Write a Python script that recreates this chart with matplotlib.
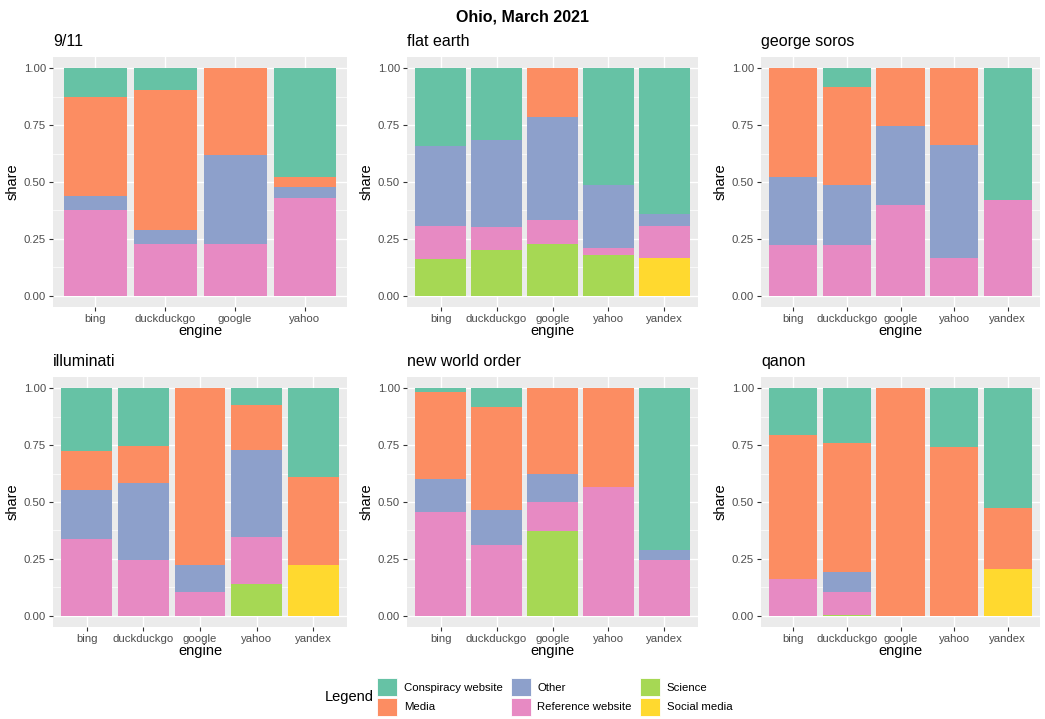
import numpy as np
import matplotlib
matplotlib.use("Agg")
import matplotlib.pyplot as plt
from matplotlib.patches import Patch

plt.rcParams['font.family'] = ['Liberation Sans', 'DejaVu Sans']

# categories, bottom of stack first (ggplot puts first level on top)
CATS = ["Conspiracy website", "Media", "Other", "Reference website", "Science", "Social media"]
COLORS = ["#66C2A5", "#FC8D62", "#8DA0CB", "#E78AC3", "#A6D854", "#FFD92F"]
STACK = ["Social media", "Science", "Reference website", "Other", "Media", "Conspiracy website"]

TOPICS = ["9/11", "flat earth", "george soros", "illuminati", "new world order", "qanon"]

engines_911 = ["bing", "duckduckgo", "google", "yahoo"]
engines_all = ["bing", "duckduckgo", "google", "yahoo", "yandex"]

# shares per engine: [Conspiracy, Media, Other, Reference, Science, Social]
share_911 = [
    [0.125, 0.4375, 0.0625, 0.375, 0, 0],
    [0.093, 0.619, 0.059, 0.229, 0, 0],
    [0, 0.383, 0.388, 0.229, 0, 0],
    [0.476, 0.046, 0.050, 0.428, 0, 0],
]
share_flat = [
    [0.341, 0, 0.354, 0.143, 0.162, 0],
    [0.314, 0, 0.385, 0.101, 0.200, 0],
    [0, 0.214, 0.451, 0.108, 0.227, 0],
    [0.513, 0, 0.279, 0.030, 0.178, 0],
    [0.640, 0, 0.055, 0.138, 0, 0.167],
]
share_soros = [
    [0, 0.479, 0.300, 0.221, 0, 0],
    [0.080, 0.433, 0.266, 0.221, 0, 0],
    [0, 0.252, 0.350, 0.398, 0, 0],
    [0, 0.336, 0.497, 0.167, 0, 0],
    [0.580, 0, 0, 0.420, 0, 0],
]
share_illu = [
    [0.274, 0.171, 0.216, 0.339, 0, 0],
    [0.252, 0.165, 0.340, 0.243, 0, 0],
    [0, 0.779, 0.115, 0.106, 0, 0],
    [0.071, 0.199, 0.383, 0.207, 0.140, 0],
    [0.388, 0.391, 0, 0, 0, 0.221],
]
share_nwo = [
    [0.016, 0.384, 0.143, 0.457, 0, 0],
    [0.083, 0.451, 0.156, 0.310, 0, 0],
    [0, 0.375, 0.125, 0.128, 0.372, 0],
    [0, 0.435, 0, 0.565, 0, 0],
    [0.712, 0, 0.042, 0.246, 0, 0],
]
share_qanon = [
    [0.206, 0.632, 0, 0.162, 0, 0],
    [0.240, 0.568, 0.089, 0.098, 0.005, 0],
    [0, 1.0, 0, 0, 0, 0],
    [0.260, 0.740, 0, 0, 0, 0],
    [0.525, 0.271, 0, 0, 0, 0.204],
]

panels = [
    (engines_911, share_911), (engines_all, share_flat), (engines_all, share_soros),
    (engines_all, share_illu), (engines_all, share_nwo), (engines_all, share_qanon),
]

W, H = 1045, 719
fig = plt.figure(figsize=(W / 100, H / 100), dpi=100)

xs = [(53, 347), (407, 698), (761, 1040)]
ys = [(57, 307), (377, 627)]

for i, (topic, (engines, shares)) in enumerate(zip(TOPICS, panels)):
    r, c = divmod(i, 3)
    x0, x1 = xs[c]
    y0, y1 = ys[r]
    ax = fig.add_axes([x0 / W, 1 - y1 / H, (x1 - x0) / W, (y1 - y0) / H])
    ax.set_facecolor("#EBEBEB")
    arr = np.array(shares)
    pos = np.arange(1, len(engines) + 1)
    bottom = np.zeros(len(engines))
    for name in STACK:
        k = CATS.index(name)
        vals = arr[:, k]
        ax.bar(pos, vals, width=0.9, bottom=bottom, color=COLORS[k], linewidth=0, zorder=3)
        bottom += vals
    ax.set_xlim(0.4, len(engines) + 0.6)
    ax.set_ylim(-0.05, 1.05)
    ax.set_xticks(pos)
    ax.set_xticklabels(engines)
    ax.set_yticks([0, 0.25, 0.5, 0.75, 1.0])
    ax.set_yticklabels(["0.00", "0.25", "0.50", "0.75", "1.00"])
    ax.set_yticks([0.125, 0.375, 0.625, 0.875], minor=True)
    ax.grid(True, which="major", color="white", linewidth=1.0, zorder=0)
    ax.grid(True, which="minor", axis="y", color="white", linewidth=0.5, zorder=0)
    ax.set_axisbelow(True)
    for s in ax.spines.values():
        s.set_visible(False)
    ax.tick_params(which="major", length=3, width=0.8, color="#333333",
                   labelsize=8.2, labelcolor="#4D4D4D", pad=2)
    ax.tick_params(which="minor", length=0)
    ax.set_xlabel("engine", fontsize=10.5, labelpad=0)
    ax.set_ylabel("share", fontsize=10.5, labelpad=3)
    ax.set_title(topic, loc="left", fontsize=11.5, pad=8)

fig.suptitle("Ohio, March 2021", fontsize=11.5, fontweight="bold", y=1 - 10 / H, va="top")

handles = [Patch(facecolor=col, edgecolor="white", linewidth=0.6) for col in COLORS]
fig.text(325 / W, 1 - 697 / H, "Legend", fontsize=10.5, va="center", ha="left")
fig.legend(handles, CATS, ncol=3, loc="center left", bbox_to_anchor=(377 / W, 1 - 697 / H),
           frameon=False, fontsize=8.2, handlelength=1.75, handleheight=2.1,
           handletextpad=0.6, columnspacing=0.7, labelspacing=0.12, borderpad=0,
           borderaxespad=0)

fig.savefig("out.png", dpi=100)
